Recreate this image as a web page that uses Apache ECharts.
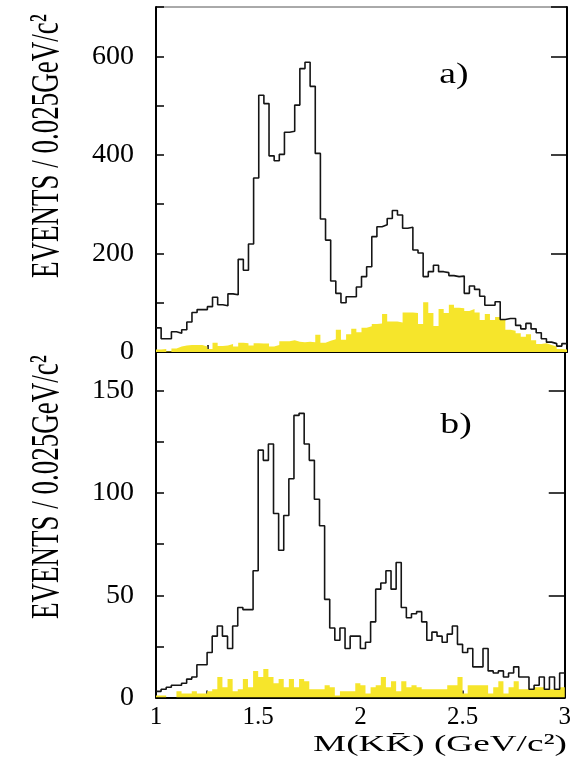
<!DOCTYPE html>
<html><head><meta charset="utf-8">
<script src="https://cdn.jsdelivr.net/npm/echarts@6/dist/echarts.min.js"></script>
<style>html,body{margin:0;padding:0;background:#fff}#c{width:574px;height:761px}</style>
</head><body><div id="c"></div>
<script>
// ---- data ----
const binStart = 1.0;
const binWidth = 0.025;
const xTickLabels = ['1', '1.5', '2', '2.5', '3'];
const topYTicks = [0, 200, 400, 600];
const bottomYTicks = [0, 50, 100, 150];

const topTotal = [49, 27, 27, 41, 38, 45, 61, 80, 86, 86, 92, 111, 96, 94, 118, 116, 188, 166, 219, 353,
  521, 504, 398, 388, 401, 446, 448, 501, 575, 588, 539, 403, 270, 227, 144, 119, 100, 112, 112, 132,
  153, 173, 234, 254, 258, 271, 287, 278, 251, 253, 207, 201, 153, 163, 176, 163, 161, 155, 153, 154,
  119, 134, 127, 113, 95, 95, 102, 66, 68, 68, 54, 47, 58, 47, 39, 27, 20, 17, 12, 17];
const topBackground = [5, 6, 1, 7, 11, 13, 14, 14, 14, 11, 6, 19, 12, 13, 16, 11, 19, 18, 13, 18,
  17, 17, 11, 14, 22, 22, 24, 21, 20, 21, 20, 35, 19, 23, 26, 45, 25, 36, 47, 40,
  49, 52, 57, 58, 77, 62, 62, 60, 80, 80, 79, 57, 101, 79, 53, 87, 79, 96, 90, 89,
  83, 87, 80, 65, 77, 65, 71, 65, 45, 43, 38, 31, 36, 24, 16, 18, 14, 11, 6, 5];
const bottomTotal = [3, 4, 5, 6, 6, 7, 9, 10, 16, 16, 22, 30, 35, 30, 24, 35, 44, 43, 43, 62,
  121, 116, 124, 90, 72, 89, 107, 138, 139, 124, 116, 97, 84, 48, 34, 28, 34, 24, 30, 30,
  24, 27, 37, 53, 56, 62, 53, 66, 44, 39, 41, 42, 37, 28, 32, 30, 27, 31, 35, 26,
  22, 24, 15, 15, 24, 13, 12, 13, 10, 12, 15, 10, 10, 4, 6, 10, 4, 10, 4, 12];
const bottomBackground = [1, 1, 0, 0, 3, 2, 2, 3, 2, 2, 3, 4, 10, 5, 9, 3, 4, 9, 5, 13,
  10, 14, 10, 7, 9, 5, 9, 5, 9, 8, 4, 4, 4, 6, 5, 1, 3, 3, 3, 7,
  6, 2, 5, 6, 10, 5, 8, 3, 8, 5, 6, 5, 4, 4, 4, 4, 4, 6, 6, 10,
  2, 6, 6, 6, 6, 2, 5, 8, 2, 5, 8, 4, 4, 4, 5, 5, 4, 4, 4, 5];

const yTitle = 'EVENTS / 0.025GeV/c\u00B2';
const xTitle = 'M(KK\u0304) (GeV/c\u00B2)';

// ---- build ----
function stepData(vals) {
  const d = vals.map((v, i) => [+(binStart + i * binWidth).toFixed(4), v]);
  d.push([+(binStart + vals.length * binWidth).toFixed(4), vals[vals.length - 1]]);
  return d;
}
const FONT = '"Liberation Serif", "Times New Roman", serif';
const YELLOW = '#f6e52b';
const LINE = '#151515';

function xAxis(grid, showLabels) {
  return {
    type: 'value', gridIndex: grid, min: 1, max: 3, interval: 0.25,
    axisLine: { show: true, onZero: false, lineStyle: { color: '#000', width: 2 } },
    axisTick: { show: true, inside: true, length: 7, lineStyle: { color: '#000', width: 1.5 } },
    splitLine: { show: false },
    axisLabel: {
      show: showLabels, margin: 7, color: '#000', fontFamily: FONT, fontSize: 25,
      formatter: v => { const s = String(+v.toFixed(2)); return xTickLabels.includes(s) ? s : ''; }
    }
  };
}
function yAxis(grid, max, interval, tickLen, labels) {
  return {
    type: 'value', gridIndex: grid, min: 0, max: max, interval: interval,
    axisLine: { show: true, onZero: false, lineStyle: { color: '#000', width: 2 } },
    axisTick: { show: true, inside: true, length: tickLen, lineStyle: { color: '#000', width: 1.5 } },
    splitLine: { show: false },
    axisLabel: labels ? {
      show: true, margin: 22, color: '#000', fontFamily: FONT, fontSize: 28,
      formatter: v => labels.includes(v) ? String(v) : ''
    } : { show: false }
  };
}

const chart = echarts.init(document.getElementById('c'), null, { renderer: 'canvas' });
chart.setOption({
  animation: false,
  backgroundColor: '#fff',
  grid: [
    { left: 156, top: 7, width: 411, height: 345, show: true, borderColor: '#555', borderWidth: 1 },
    { left: 156, top: 352, width: 411, height: 345.5, show: true, borderColor: '#555', borderWidth: 1 }
  ],
  xAxis: [xAxis(0, false), xAxis(1, true)],
  yAxis: [
    yAxis(0, 700, 100, 8, topYTicks),
    yAxis(0, 700, 200, 16, null),
    yAxis(1, 169, 25, 8, bottomYTicks),
    yAxis(1, 169, 50, 16, null)
  ],
  series: [
    { type: 'line', xAxisIndex: 0, yAxisIndex: 0, step: 'end', symbol: 'none', z: 2,
      lineStyle: { width: 0 }, areaStyle: { color: YELLOW, opacity: 1 }, data: stepData(topBackground) },
    { type: 'line', xAxisIndex: 0, yAxisIndex: 0, step: 'end', symbol: 'none', z: 3,
      lineStyle: { color: LINE, width: 1.6 }, data: stepData(topTotal) },
    { type: 'line', xAxisIndex: 1, yAxisIndex: 2, step: 'end', symbol: 'none', z: 2,
      lineStyle: { width: 0 }, areaStyle: { color: YELLOW, opacity: 1 }, data: stepData(bottomBackground) },
    { type: 'line', xAxisIndex: 1, yAxisIndex: 2, step: 'end', symbol: 'none', z: 3,
      lineStyle: { color: LINE, width: 1.6 }, data: stepData(bottomTotal) }
  ],
  graphic: [
    { type: 'text', x: 47, y: 146, rotation: Math.PI / 2, scaleY: 1.5,
      style: { text: yTitle, font: '27px ' + FONT, fill: '#000', align: 'center', verticalAlign: 'middle', textAlign: 'center', textVerticalAlign: 'middle' } },
    { type: 'text', x: 47, y: 487, rotation: Math.PI / 2, scaleY: 1.5,
      style: { text: yTitle, font: '27px ' + FONT, fill: '#000', align: 'center', verticalAlign: 'middle', textAlign: 'center', textVerticalAlign: 'middle' } },
    { type: 'text', x: 454, y: 75, scaleX: 1.3,
      style: { text: 'a)', font: '29px ' + FONT, fill: '#000', align: 'center', verticalAlign: 'middle', textAlign: 'center', textVerticalAlign: 'middle' } },
    { type: 'text', x: 456, y: 425, scaleX: 1.3,
      style: { text: 'b)', font: '29px ' + FONT, fill: '#000', align: 'center', verticalAlign: 'middle', textAlign: 'center', textVerticalAlign: 'middle' } },
    { type: 'text', x: 567, y: 745, scaleX: 1.55,
      style: { text: xTitle, font: '24px ' + FONT, fill: '#000', align: 'right', verticalAlign: 'middle', textAlign: 'right', textVerticalAlign: 'middle' } }
  ]
});
</script>
</body></html>
